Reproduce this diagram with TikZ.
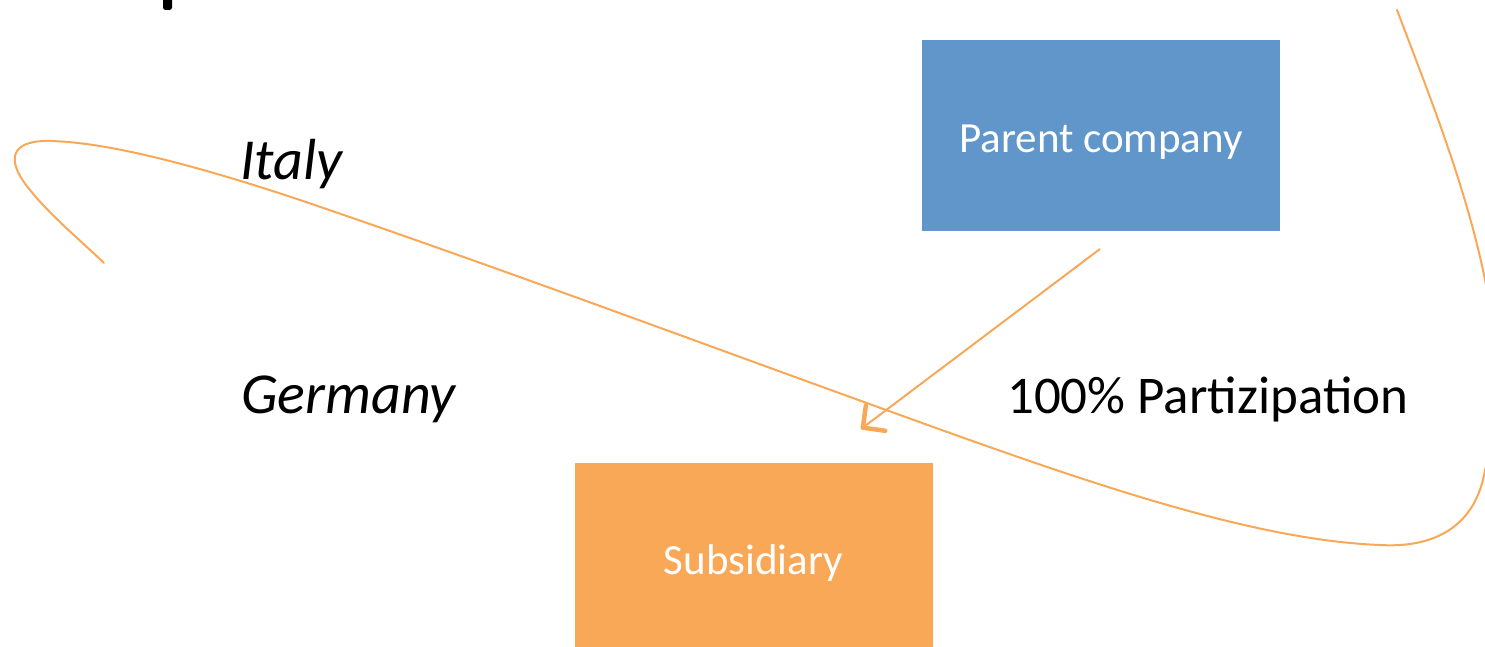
\documentclass[tikz,border=0pt]{standalone}
\usepackage{fontspec}
\setmainfont{Carlito}
\usetikzlibrary{arrows.meta}
\definecolor{boxblue}{RGB}{96,150,201}
\definecolor{boxorange}{RGB}{249,168,87}
\definecolor{lineorange}{RGB}{249,168,87}
\tikzset{
  orgbox/.style={minimum width=358pt, minimum height=191pt, inner sep=0pt,
    text=white, font=\fontsize{43}{51}\selectfont, text height=35pt, text depth=0pt},
  country/.style={anchor=base west, inner sep=0pt, font=\fontsize{58}{68}\selectfont\itshape},
  plain/.style={anchor=base west, inner sep=0pt, font=\fontsize{53}{62}\selectfont},
  share/.style={draw=lineorange, line width=2pt,
    -{Straight Barb[length=16pt, width=32pt, line width=4.5pt, round]}},
  border/.style={draw=lineorange, line width=2pt, line cap=round}
}
\begin{document}
\begin{tikzpicture}[x=1pt,y=-1pt]
\useasboundingbox (0,0) rectangle (1485,647);
\clip (0,0) rectangle (1485,647);
% fragment of a cut-off glyph at the top
\fill[black, rounded corners=2.5pt] (163,-8) rectangle (172,10);
% boxes
\node[orgbox, fill=boxblue] (parent) at (1101,135.5) {Parent company};
\node[orgbox, fill=boxorange, text height=31pt] (sub) at (753.5,558.5) {Subsidiary};
% labels
\node[country] (italy) at (240,180) {Italy};
\node[country] (germany) at (241,413) {Germany};
\node[plain] (part) at (1007,413) {100\% Partizipation};
% border curve
\draw[border] (1397,10) .. controls (1450,150) and (1525,330) .. (1485,470)
  .. controls (1475,530) and (1430,548) .. (1380,545)
  .. controls (1250,540) and (1080,480) .. (900,415)
  .. controls (700,343) and (500,268) .. (300,200)
  .. controls (180,160) and (100,142) .. (50,141)
  .. controls (10,140) and (5,160) .. (30,190)
  .. controls (50,215) and (80,240) .. (104,263);
% participation arrow
\coordinate (a1) at (1100,249);
\coordinate (a2) at (861,429);
\draw[share] (a1) -- (a2);
\end{tikzpicture}
\end{document}
